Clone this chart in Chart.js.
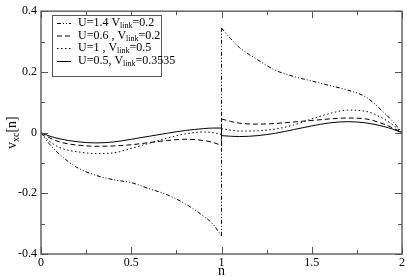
<!DOCTYPE html>
<html>
<head>
<meta charset="utf-8">
<script src="https://cdn.jsdelivr.net/npm/chart.js@4/dist/chart.umd.min.js"></script>
<style>
html,body{margin:0;padding:0;background:#fff;}
#wrap{width:407px;height:277px;position:relative;}
</style>
</head>
<body>
<div id="wrap"><canvas id="c" width="407" height="277"></canvas></div>
<script>
// ---- data ----
const nLeft  = [0,0.05,0.1,0.15,0.2,0.3,0.4,0.5,0.6,0.7,0.8,0.9,0.95,1];
const nRight = [1,1.05,1.1,1.2,1.3,1.4,1.5,1.6,1.7,1.8,1.9,1.95,2];
const vU14Left  = [0,-0.04,-0.07,-0.095,-0.115,-0.14,-0.155,-0.165,-0.185,-0.205,-0.235,-0.275,-0.30,-0.34];
const vU14Right = [0.345,0.31,0.28,0.24,0.205,0.185,0.17,0.155,0.14,0.117,0.066,0.036,0];
const vU06Left  = [0,-0.018,-0.03,-0.037,-0.041,-0.045,-0.044,-0.04,-0.033,-0.026,-0.022,-0.026,-0.032,-0.042];
const vU06Right = [0.045,0.037,0.031,0.028,0.03,0.035,0.04,0.045,0.048,0.045,0.028,0.015,0];
const vU1Left   = [0,-0.03,-0.048,-0.058,-0.063,-0.069,-0.067,-0.052,-0.035,-0.018,-0.004,0.002,0.0,-0.006];
const vU1Right  = [0.013,0.008,0.005,0.006,0.012,0.025,0.045,0.063,0.074,0.07,0.045,0.025,0];
const vU05Left  = [0,-0.012,-0.02,-0.026,-0.03,-0.034,-0.031,-0.022,-0.012,-0.002,0.007,0.013,0.015,0.015];
const vU05Right = [-0.01,-0.012,-0.013,-0.01,-0.002,0.01,0.022,0.032,0.036,0.032,0.02,0.011,0];
const seriesU = ["1.4","0.6 ,","1 ,","0.5,"];
const seriesV = ["0.2","0.2","0.5","0.3535"];
const xTickValues = [0,0.5,1,1.5,2];
const xTickLabels = ["0","0.5","1","1.5","2"];
const yTickValues = [-0.4,-0.2,0,0.2,0.4];
const yTickLabels = ["-0.4","-0.2","0","0.2","0.4"];
const xMinorValues = [0.25,0.75,1.25,1.75];
const yMinorValues = [-0.3,-0.1,0.1,0.3];

const dashes = [[4,2,1,2,1,2],[5,3],[1.5,2.5],[]];
const lefts  = [vU14Left, vU06Left, vU1Left, vU05Left];
const rights = [vU14Right, vU06Right, vU1Right, vU05Right];

const datasets = [];
lefts.forEach((L,i)=>{
  const R = rights[i];
  const base = { borderColor:'#000', borderWidth:1, borderDash:dashes[i], pointRadius:0, fill:false };
  datasets.push(Object.assign({}, base, { label:'U='+seriesU[i]+' left', cubicInterpolationMode:'monotone',
    data: nLeft.map((n,k)=>({x:n,y:L[k]})) }));
  datasets.push(Object.assign({}, base, { label:'U='+seriesU[i]+' jump', tension:0,
    data: [{x:nLeft[nLeft.length-1], y:L[L.length-1]}, {x:nRight[0], y:R[0]}] }));
  datasets.push(Object.assign({}, base, { label:'U='+seriesU[i]+' right', cubicInterpolationMode:'monotone',
    data: nRight.map((n,k)=>({x:n,y:R[k]})) }));
});

const SERIF = '"Liberation Serif", "DejaVu Serif", serif';

const decor = {
  id:'decor',
  afterDraw(chart){
    const ctx = chart.ctx;
    const xs = chart.scales.x, ys = chart.scales.y;
    const a = chart.chartArea;
    ctx.save();
    ctx.strokeStyle = '#666';
    ctx.lineWidth = 1.5;
    ctx.setLineDash([]);
    ctx.strokeRect(a.left, a.top, a.right-a.left, a.bottom-a.top);
    ctx.lineWidth = 1;
    ctx.strokeStyle = '#555';
    const tick = (x1,y1,x2,y2)=>{ctx.beginPath();ctx.moveTo(x1,y1);ctx.lineTo(x2,y2);ctx.stroke();};
    xTickValues.forEach(v=>{const p=Math.round(xs.getPixelForValue(v))+0.5; tick(p,a.bottom,p,a.bottom-7); tick(p,a.top,p,a.top+7);});
    xMinorValues.forEach(v=>{const p=Math.round(xs.getPixelForValue(v))+0.5; tick(p,a.bottom,p,a.bottom-4); tick(p,a.top,p,a.top+4);});
    yTickValues.forEach(v=>{const p=Math.round(ys.getPixelForValue(v))+0.5; tick(a.left,p,a.left+7,p); tick(a.right,p,a.right-7,p);});
    yMinorValues.forEach(v=>{const p=Math.round(ys.getPixelForValue(v))+0.5; tick(a.left,p,a.left+4,p); tick(a.right,p,a.right-4,p);});

    ctx.fillStyle = '#000';
    ctx.font = '14px ' + SERIF;
    ctx.textAlign = 'center';
    ctx.textBaseline = 'alphabetic';
    ctx.fillText('n', (a.left+a.right)/2, 275);

    ctx.save();
    ctx.translate(16, (a.top+a.bottom)/2);
    ctx.rotate(-Math.PI/2);
    ctx.textAlign = 'left';
    ctx.font = '14px ' + SERIF;
    const w1 = ctx.measureText('v').width;
    ctx.font = '10px ' + SERIF;
    const w2 = ctx.measureText('xc').width;
    ctx.font = '14px ' + SERIF;
    const w3 = ctx.measureText('[n]').width;
    let x0 = -(w1+w2+w3)/2;
    ctx.fillText('v', x0, 0);
    ctx.font = '10px ' + SERIF;
    ctx.fillText('xc', x0+w1, 3);
    ctx.font = '14px ' + SERIF;
    ctx.fillText('[n]', x0+w1+w2, 0);
    ctx.restore();

    const lx = 52, ly = 15, lw = 109, lh = 61;
    ctx.fillStyle = '#fff';
    ctx.fillRect(lx, ly, lw, lh);
    ctx.strokeStyle = '#555';
    ctx.lineWidth = 1;
    ctx.strokeRect(lx+0.5, ly+0.5, lw, lh);
    const rows = [23,35.5,48,61];
    rows.forEach((ry,i)=>{
      ctx.strokeStyle = '#000';
      ctx.lineWidth = 1;
      ctx.setLineDash(dashes[i]);
      ctx.beginPath(); ctx.moveTo(57, ry+0.5); ctx.lineTo(71, ry+0.5); ctx.stroke();
      ctx.setLineDash([]);
      ctx.fillStyle = '#000';
      ctx.textAlign = 'left';
      ctx.textBaseline = 'middle';
      let tx = 78;
      const main = 'U=' + seriesU[i] + ' V';
      ctx.font = '12px ' + SERIF;
      ctx.fillText(main, tx, ry);
      tx += ctx.measureText(main).width;
      ctx.font = '8px ' + SERIF;
      ctx.fillText('link', tx, ry+3);
      tx += ctx.measureText('link').width;
      ctx.font = '12px ' + SERIF;
      ctx.fillText('=' + seriesV[i], tx, ry);
    });
    ctx.restore();
  }
};

new Chart(document.getElementById('c'), {
  type: 'line',
  data: { datasets },
  options: {
    responsive: false,
    animation: false,
    devicePixelRatio: 1,
    layout: { padding: { top: 5, right: 4, left: 0, bottom: 0 } },
    plugins: { legend: { display: false }, tooltip: { enabled: false } },
    scales: {
      x: {
        type: 'linear', min: 0, max: 2,
        afterBuildTicks: s => { s.ticks = xTickValues.map(v=>({value:v})); },
        afterFit: s => { s.height = 23; },
        grid: { display: false, drawTicks: false },
        border: { display: false },
        ticks: {
          padding: 2, color: '#000',
          font: { family: SERIF, size: 12 },
          maxRotation: 0, autoSkip: false,
          callback: (v, i) => xTickLabels[i]
        }
      },
      y: {
        type: 'linear', min: -0.4, max: 0.4,
        afterBuildTicks: s => { s.ticks = yTickValues.map(v=>({value:v})); },
        afterFit: s => { s.width = 41; },
        grid: { display: false, drawTicks: false },
        border: { display: false },
        ticks: {
          padding: 4, color: '#000',
          font: { family: SERIF, size: 12 },
          autoSkip: false,
          callback: (v, i) => yTickLabels[i]
        }
      }
    }
  },
  plugins: [decor]
});
</script>
</body>
</html>
